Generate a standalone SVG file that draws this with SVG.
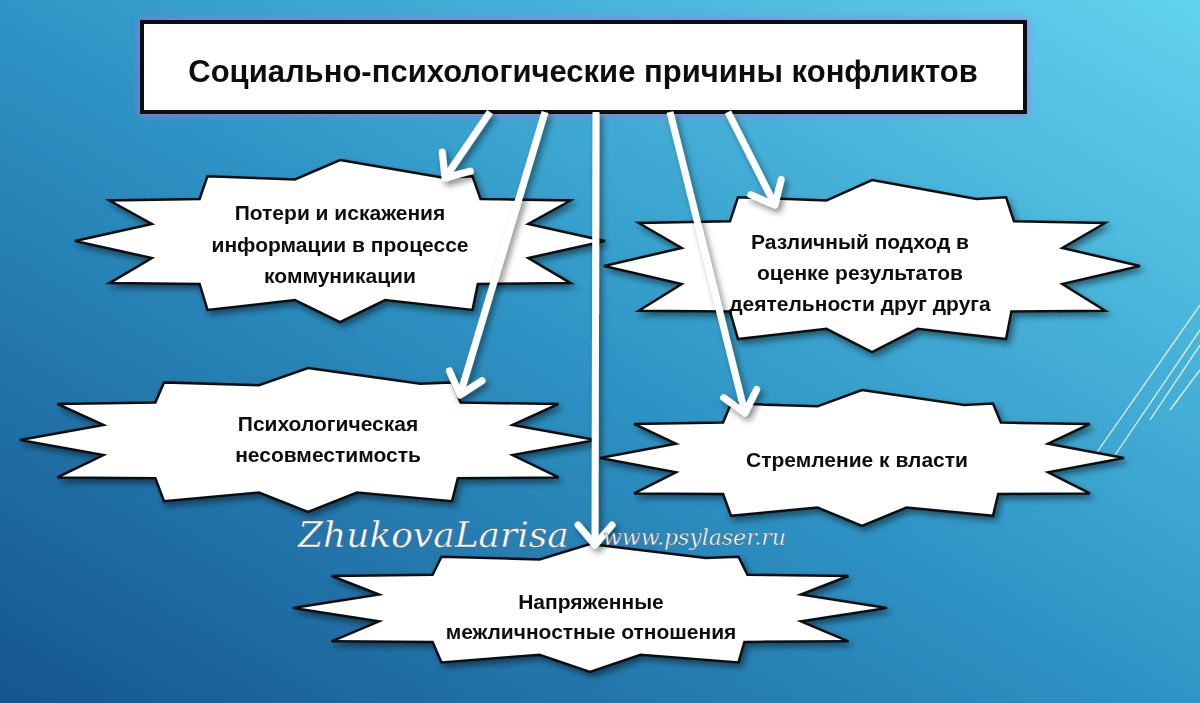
<svg xmlns="http://www.w3.org/2000/svg" width="1200" height="703" viewBox="0 0 1200 703">
<style>
.star{fill:#fff;stroke:#111;stroke-width:2.5}
.t{font-family:"Liberation Sans Narrow","Arial Narrow","Liberation Sans",sans-serif;font-weight:bold;font-size:21px;fill:#111;text-anchor:middle}
.arr{stroke:#fff;stroke-width:7;fill:none;marker-end:url(#ah)}
.deco{stroke:#fff;stroke-width:1.3;fill:none;opacity:.85}
</style>
<defs>
<linearGradient id="bg" x1="1" y1="0" x2="0" y2="1">
<stop offset="0" stop-color="#62d3ee"/>
<stop offset="0.5" stop-color="#2f95c6"/>
<stop offset="1" stop-color="#15558f"/>
</linearGradient>
<filter id="sh" x="-10%" y="-10%" width="120%" height="130%"><feDropShadow dx="3" dy="4" stdDeviation="3" flood-color="#000" flood-opacity=".45"/></filter>
<filter id="glow" x="-5%" y="-20%" width="110%" height="140%"><feDropShadow dx="0" dy="0" stdDeviation="4" flood-color="#b070e0" flood-opacity="1"/></filter>
<marker id="ah" markerUnits="userSpaceOnUse" markerWidth="50" markerHeight="50" refX="25" refY="25" orient="auto" viewBox="0 0 50 50">
<path d="M5,8 L25,25 L5,42" stroke="#fff" stroke-width="7" fill="none" stroke-linecap="round" stroke-linejoin="round"/>
</marker>
</defs>
<rect width="1200" height="703" fill="url(#bg)"/>
<g id="decor">
<path class="deco" d="M1200,305 L1095,455 M1200,330 L1115,455 M1200,345 L1150,420 M1200,370 L1170,410"/>
</g>
<g id="title" filter="url(#glow)">
<rect x="142" y="22" width="883" height="90" fill="#fff" stroke="#111" stroke-width="4"/>
<text x="583" y="82" style="font-family:'Liberation Sans',Arial,sans-serif;font-weight:bold;font-size:31px;fill:#111;text-anchor:middle">Социально-психологические причины конфликтов</text>
</g>
<g id="n1" filter="url(#sh)">
<polygon class="star" points="340,160 443.4,177.8 472.5,176.2 480.5,198.9 570.6,200.5 528.2,224 605,241 528.2,258 570.6,283.1 477.8,283.9 472.5,309.9 385.1,300.1 340,322 294.9,300.1 207.5,309.9 199.6,283.9 109.5,283.1 151.9,258 75,241 151.9,224 109.5,200.5 199.6,198.9 207.5,176.2 294.9,179.4"/>
<text class="t" x="340" y="220">Потери и искажения</text>
<text class="t" x="340" y="252">информации в процессе</text>
<text class="t" x="340" y="283">коммуникации</text>
</g>
<g id="n2" filter="url(#sh)">
<polygon class="star" points="308,368 420.3,383.8 452,382.4 460.6,402.6 558.6,404 512.5,424.9 596,440 512.5,455.1 558.6,477.4 457.8,478.2 452,501.2 357,492.6 308,512 259,492.6 164,501.2 155.4,478.2 57.4,477.4 103.5,455.1 20,440 103.5,424.9 57.4,404 155.4,402.6 164,382.4 259,385.3"/>
<text class="t" x="328" y="431">Психологическая</text>
<text class="t" x="328" y="462">несовместимость</text>
</g>
<g id="n3" filter="url(#sh)">
<polygon class="star" points="872,180 976.5,198.9 1006,197.2 1014,221.3 1105.2,223 1062.3,247.9 1140,266 1062.3,284.1 1105.2,310.7 1011.4,311.6 1006,339.1 917.6,328.8 872,352 826.4,328.8 738,339.1 730,311.6 638.8,310.7 681.7,284.1 604,266 681.7,247.9 638.8,223 730,221.3 738,197.2 826.4,200.6"/>
<text class="t" x="860" y="249">Различный подход в</text>
<text class="t" x="860" y="280">оценке результатов</text>
<text class="t" x="860" y="311">деятельности друг друга</text>
</g>
<g id="n4" filter="url(#sh)">
<polygon class="star" points="862,390 964.2,405 993,403.6 1000.9,422.6 1089.9,424 1048,443.7 1124,458 1048,472.3 1089.9,493.4 998.2,494 993,515.8 906.5,507.6 862,526 817.5,507.6 731,515.8 723.1,494 634.1,493.4 676,472.3 600,458 676,443.7 634.1,424 723.1,422.6 731,403.6 817.5,406.3"/>
<text class="t" x="857" y="467">Стремление к власти</text>
</g>
<g id="n5" filter="url(#sh)">
<polygon class="star" points="590,544 705.8,558.1 738.5,556.8 747.4,574.7 848.4,576 800.9,594.6 887,608 800.9,621.4 848.4,641.3 744.4,641.9 738.5,662.4 640.5,654.7 590,672 539.5,654.7 441.5,662.4 432.6,641.9 331.6,641.3 379.1,621.4 293,608 379.1,594.6 331.6,576 432.6,574.7 441.5,556.8 539.5,559.4"/>
<text class="t" x="591" y="609">Напряженные</text>
<text class="t" x="591" y="639">межличностные отношения</text>
</g>
<g id="connectors" filter="url(#sh)">
<line class="arr" x1="490" y1="112" x2="445" y2="178"/>
<line class="arr" x1="545" y1="112" x2="460" y2="395"/>
<line class="arr" x1="596" y1="112" x2="595" y2="545"/>
<line class="arr" x1="670" y1="112" x2="745" y2="413"/>
<line class="arr" x1="728" y1="112" x2="775" y2="205"/>
</g>
<g id="watermark" fill="#fff" stroke="#555" stroke-width=".4" font-family="'DejaVu Serif',serif" font-style="italic">
<text x="298" y="547" font-size="36">ZhukovaLarisa</text>
<text x="603" y="545" font-size="22">www.psylaser.ru</text>
</g>
</svg>
